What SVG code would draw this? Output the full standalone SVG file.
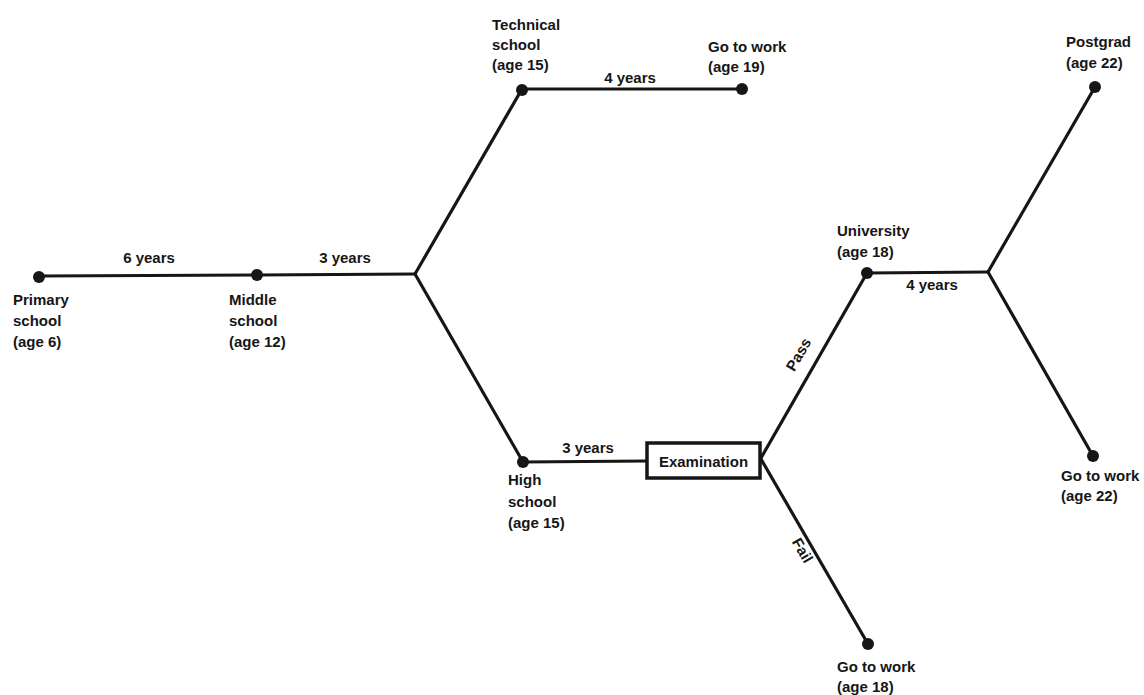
<svg xmlns="http://www.w3.org/2000/svg" width="1144" height="695" viewBox="0 0 1144 695">
<style>
.t{font-family:"Liberation Sans",Arial,sans-serif;font-size:15px;font-weight:bold;fill:#161616}
.c{stroke:#161616;stroke-width:3.2;fill:none;stroke-linecap:round;stroke-linejoin:round}
.d{fill:#161616}
.box{fill:#fff;stroke:#161616;stroke-width:3.5}
</style>
<rect width="1144" height="695" fill="#fff"/>
<g id="connectors" class="c">
<line x1="39" y1="276" x2="257" y2="275"/>
<line x1="257" y1="275" x2="415" y2="274"/>
<line x1="415" y1="274" x2="522" y2="89"/>
<line x1="415" y1="274" x2="523" y2="462"/>
<line x1="522" y1="89" x2="742" y2="89"/>
<line x1="523" y1="462" x2="646" y2="461"/>
<line x1="761" y1="458" x2="867" y2="273"/>
<line x1="761" y1="459" x2="868" y2="644"/>
<line x1="867" y1="273" x2="988" y2="272"/>
<line x1="988" y1="272" x2="1095" y2="87"/>
<line x1="988" y1="272" x2="1093" y2="456"/>
</g>
<g id="edge-labels" class="t">
<text x="149" y="263" text-anchor="middle">6 years</text>
<text x="345" y="263" text-anchor="middle">3 years</text>
<text x="630" y="83" text-anchor="middle">4 years</text>
<text x="588" y="453" text-anchor="middle">3 years</text>
<text x="932" y="290" text-anchor="middle">4 years</text>
<text x="0" y="0" text-anchor="middle" transform="translate(803,357) rotate(-60)">Pass</text>
<text x="0" y="0" text-anchor="middle" transform="translate(798,553) rotate(60)">Fail</text>
</g>
<g id="primary">
<circle class="d" cx="39" cy="277" r="6"/>
<text class="t" x="13" y="305">Primary</text>
<text class="t" x="13" y="326">school</text>
<text class="t" x="13" y="347">(age 6)</text>
</g>
<g id="middle">
<circle class="d" cx="257" cy="275" r="6"/>
<text class="t" x="229" y="305">Middle</text>
<text class="t" x="229" y="326">school</text>
<text class="t" x="229" y="347">(age 12)</text>
</g>
<g id="technical">
<circle class="d" cx="522" cy="90" r="6"/>
<text class="t" x="492" y="30">Technical</text>
<text class="t" x="492" y="50">school</text>
<text class="t" x="492" y="70">(age 15)</text>
</g>
<g id="work19">
<circle class="d" cx="742" cy="89" r="6"/>
<text class="t" x="708" y="52">Go to work</text>
<text class="t" x="708" y="72">(age 19)</text>
</g>
<g id="high">
<circle class="d" cx="523" cy="462" r="6"/>
<text class="t" x="508" y="485">High</text>
<text class="t" x="508" y="507">school</text>
<text class="t" x="508" y="528">(age 15)</text>
</g>
<g id="exam">
<rect class="box" x="647" y="443" width="113" height="35"/>
<text class="t" x="703.5" y="467" text-anchor="middle">Examination</text>
</g>
<g id="university">
<circle class="d" cx="867" cy="273" r="6"/>
<text class="t" x="837" y="236">University</text>
<text class="t" x="837" y="257">(age 18)</text>
</g>
<g id="work18">
<circle class="d" cx="868" cy="644" r="6"/>
<text class="t" x="837" y="672">Go to work</text>
<text class="t" x="837" y="692">(age 18)</text>
</g>
<g id="postgrad">
<circle class="d" cx="1095" cy="87" r="6"/>
<text class="t" x="1066" y="47">Postgrad</text>
<text class="t" x="1066" y="68">(age 22)</text>
</g>
<g id="work22">
<circle class="d" cx="1093" cy="456" r="6"/>
<text class="t" x="1061" y="481">Go to work</text>
<text class="t" x="1061" y="501">(age 22)</text>
</g>
</svg>
